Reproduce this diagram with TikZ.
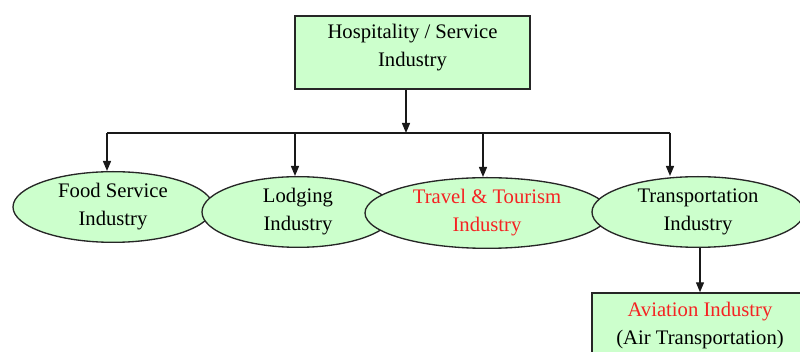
\documentclass[tikz,border=0pt]{standalone}
\usepackage{fontspec}
\setmainfont{Liberation Serif}
\usetikzlibrary{shapes.geometric, arrows.meta}
\definecolor{boxgreen}{RGB}{204,255,204}
\definecolor{textred}{RGB}{245,35,35}

\tikzset{
  lbl/.style={font=\fontsize{15.5}{21}\selectfont, align=center, inner sep=0pt},
  sqbox/.style={lbl, draw=black!85, line width=1.1pt, fill=boxgreen, minimum width=176pt},
  ovalbox/.style={lbl, ellipse, draw=black!85, line width=1pt, fill=boxgreen, minimum height=53pt},
  arr/.style={-{Triangle[length=7.5pt,width=6pt]}, line width=1pt, black!90}
}

\begin{document}
\begin{tikzpicture}[x=0.75pt,y=0.75pt,yscale=-1,xscale=1]
        \useasboundingbox (0,0) rectangle (800,352);

        %Shape: Rectangle
        \node [sqbox, minimum height=55pt, text depth=10pt] (hosp) at (412.5,52.5) {Hospitality / Service\\Industry};

        %Shape: Ellipse
        \node [ovalbox, minimum width=150pt] (food) at (113,207) {Food Service\\Industry};
        %Shape: Ellipse
        \node [ovalbox, minimum width=144pt] (lodg) at (298,212) {Lodging\\Industry};
        %Shape: Ellipse
        \node [ovalbox, minimum width=183pt, text=textred] (trav) at (487,213) {Travel \& Tourism\\Industry};
        %Shape: Ellipse
        \node [ovalbox, minimum width=159pt] (trans) at (698,212) {Transportation\\Industry};

        %Shape: Rectangle
        \node [sqbox, minimum width=162pt, minimum height=49.5pt] (avia) at (700,326) {\textcolor{textred}{Aviation Industry}\\(Air Transportation)};

        % branch points
        \coordinate (bus) at (406,133);
        \coordinate (tfood) at (107,133);
        \coordinate (tlodg) at (295,133);
        \coordinate (ttrav) at (483,133);
        \coordinate (ttrans) at (670,133);

        \draw [arr] (hosp.south -| bus) -- (bus);
        \draw [line width=1pt, black!90] (tfood) -- (ttrans);
        \draw [arr] (tfood) -- (tfood |- food.north);
        \draw [arr] (tlodg) -- (tlodg |- lodg.north);
        \draw [arr] (ttrav) -- (ttrav |- trav.north);
        \draw [arr] (ttrans) -- ++(0,43);
        \draw [arr] (trans.south -| avia.north) -- (avia.north);

\end{tikzpicture}
\end{document}
